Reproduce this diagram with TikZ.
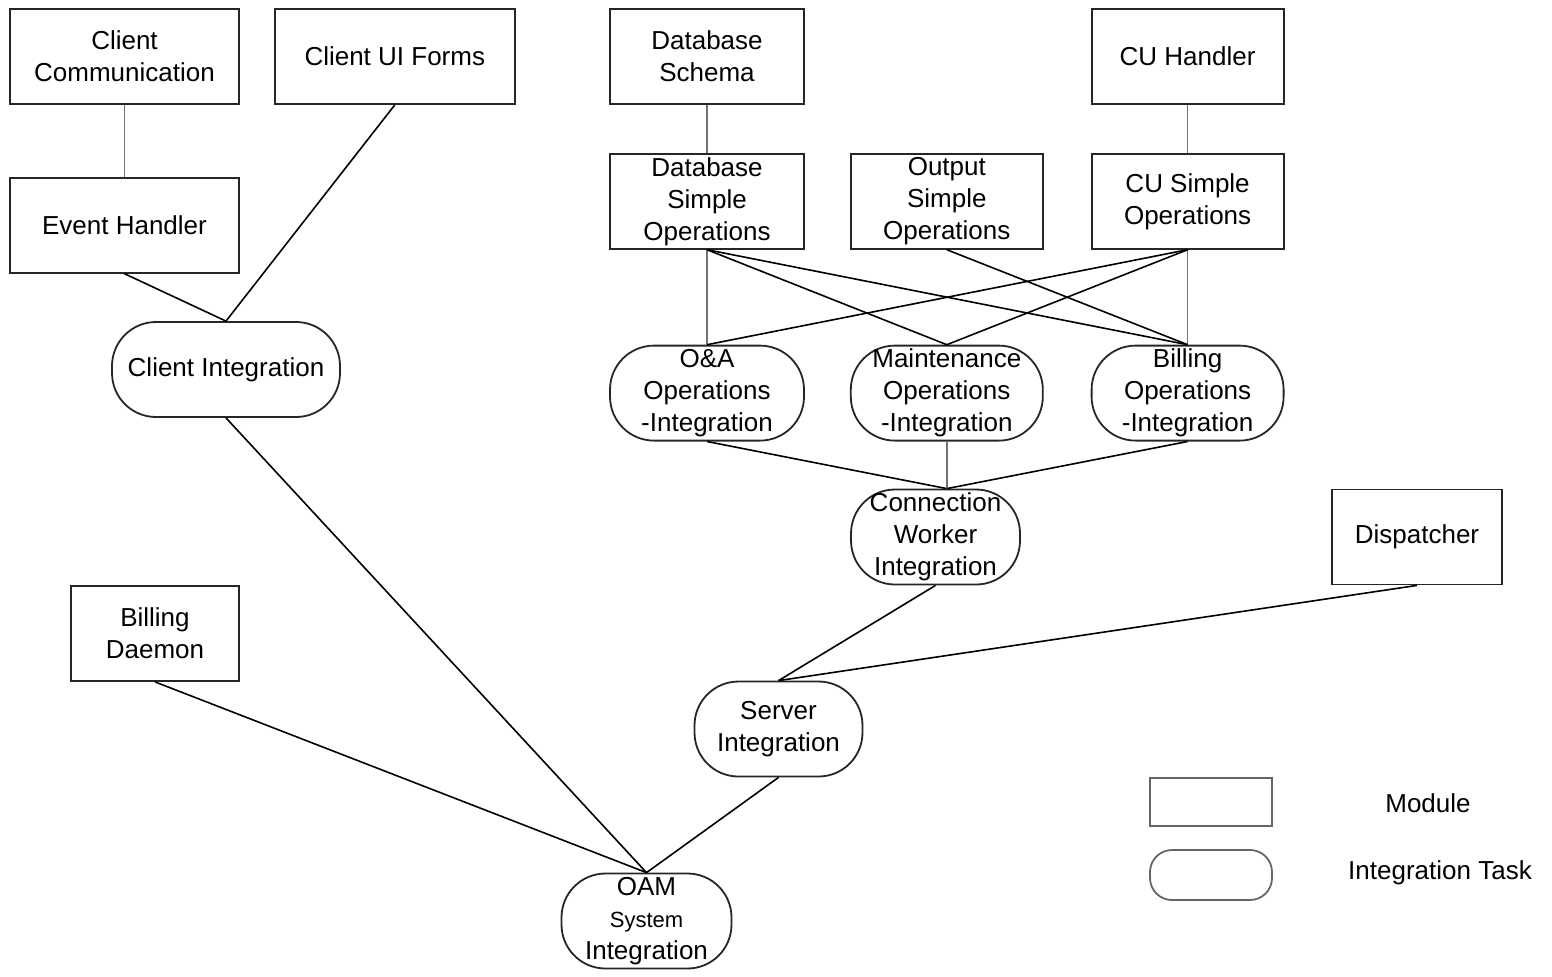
\documentclass[tikz,border=0pt]{standalone}
\usepackage{fontspec}
\setmainfont{Liberation Sans}
\usetikzlibrary{positioning}

\begin{document}
\begin{tikzpicture}[
    x=0.5pt, y=-0.5pt,
    module/.style={rectangle, draw=black!85, line width=0.9pt, minimum width=96pt, minimum height=47.5pt, inner xsep=2pt, inner ysep=0.5pt, align=center, font=\fontsize{13}{16}\selectfont},
    task/.style={rectangle, draw=black!85, line width=0.9pt, rounded corners=22pt, minimum width=96pt, minimum height=47.5pt, inner xsep=2pt, inner ysep=0.5pt, align=center, font=\fontsize{13}{16}\selectfont},
    conn/.style={draw=black, line width=0.8pt},
    vline/.style={draw=black!55, line width=0.8pt}
]
    \useasboundingbox (0,0) rectangle (1552,976);

    % Client side
    \node[module, minimum width=114.5pt] (cc) at (124.5,56.5) {Client\\Communication};
    \node[module, minimum width=120pt, right=17pt of cc] (ui) {Client UI Forms};
    \node[module, minimum width=114.5pt, below=36pt of cc] (eh) {Event Handler};
    \node[task, minimum width=114pt] (ci) at (226,369.5) {Client Integration};
    \node[module, minimum width=84pt] (bd) at (155,633.5) {Billing\\Daemon};

    % Server side modules
    \node[module, minimum width=97pt] (dbs) at (707,56.5) {Database\\Schema};
    \node[module, minimum width=97pt, below=24pt of dbs] (dbo) {Database\\Simple\\Operations};
    \node[module, right=22.5pt of dbo] (oso) {Output\\Simple\\Operations};
    \node[module, right=23.5pt of oso] (cuo) {CU Simple\\Operations};
    \node[module, above=24pt of cuo] (cuh) {CU Handler};

    % Operations integration
    \node[task, minimum width=97pt, below=47.5pt of dbo] (oai) {O\&A\\Operations\\-Integration};
    \node[task, below=47.5pt of oso] (moi) {Maintenance\\Operations\\-Integration};
    \node[task, below=47.5pt of cuo] (boi) {Billing\\Operations\\-Integration};

    \node[task, minimum width=84.5pt] (cwi) at (935.5,537) {Connection\\Worker\\Integration};
    \node[module, minimum width=85pt] (dsp) at (1417,537) {Dispatcher};
    \node[task, minimum width=84pt] (si) at (778.5,729) {Server\\Integration};
    \node[task, minimum width=85pt] (oam) at (646.5,921) {OAM\\{\fontsize{11}{15}\selectfont System}\\Integration};

    \coordinate (cwtop) at (moi.south |- cwi.north);

    % Connectors
    \draw[vline] (cc) -- (eh);
    \draw[conn] (eh.south) -- (ci.north);
    \draw[conn] (ui.south) -- (ci.north);
    \draw[conn] (ci.south) -- (oam.north);
    \draw[conn] (bd.south) -- (oam.north);
    \draw[conn] (si.south) -- (oam.north);

    \draw[vline] (dbs) -- (dbo);
    \draw[vline] (cuh) -- (cuo);
    \draw[vline] (dbo) -- (oai);
    \draw[vline] (cuo) -- (boi);
    \draw[conn] (dbo.south) -- (moi.north);
    \draw[conn] (dbo.south) -- (boi.north);
    \draw[conn] (oso.south) -- (boi.north);
    \draw[conn] (cuo.south) -- (oai.north);
    \draw[conn] (cuo.south) -- (moi.north);

    \draw[conn] (oai.south) -- (cwtop);
    \draw[vline] (moi.south) -- (cwtop);
    \draw[conn] (boi.south) -- (cwtop);
    \draw[conn] (cwi.south) -- (si.north);
    \draw[conn] (dsp.south) -- (si.north);

    % Legend
    \node[module, draw=black!60, minimum width=61pt, minimum height=24pt] (lgmod) at (1211,802) {};
    \node[task, draw=black!60, rounded corners=11pt, minimum width=61pt, minimum height=25pt] (lgtask) at (1211,875) {};
    \node[font=\fontsize{13}{16}\selectfont] (lgmodtxt) at (1428,803) {Module};
    \node[font=\fontsize{13}{16}\selectfont] (lgtasktxt) at (1440,873) {Integration Task};

\end{tikzpicture}
\end{document}
